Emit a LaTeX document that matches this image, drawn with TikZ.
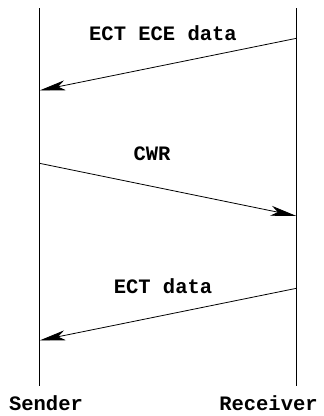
\documentclass[tikz,border=0pt]{standalone}
\usepackage{fontspec}
\setmonofont{Liberation Mono}
\usetikzlibrary{arrows.meta}
\begin{document}
\begin{tikzpicture}[x=1pt,y=-1pt,
  lifeline/.style={line width=0.9pt},
  msg/.style={line width=0.8pt,-{Stealth[length=26pt,width=10pt,inset=7pt]}},
  lbl/.style={font=\ttfamily\bfseries\fontsize{20.5}{22}\selectfont,inner sep=0pt,anchor=base}]
\useasboundingbox (0,0) rectangle (324,416);
% lifelines
\coordinate (stop) at (39.5,8);
\coordinate (sbot) at (39.5,386);
\coordinate (rtop) at (296.5,8);
\coordinate (rbot) at (296.5,386);
\draw[lifeline] (stop) -- (sbot);
\draw[lifeline] (rtop) -- (rbot);
% message end points
\coordinate (r1) at (296.5,38.3);
\coordinate (s1) at (39.5,90.5);
\coordinate (s2) at (39.5,163.3);
\coordinate (r2) at (296.5,216);
\coordinate (r3) at (296.5,288.3);
\coordinate (s3) at (39.5,340.5);
\draw[msg] (r1) -- (s1);
\draw[msg] (s2) -- (r2);
\draw[msg] (r3) -- (s3);
% labels
\node[lbl] (l1) at (163,40.5) {ECT ECE data};
\node[lbl] (l2) at (152,160) {CWR};
\node[lbl] (l3) at (163,293.3) {ECT data};
\node[lbl] (snd) at (46,410) {Sender};
\node[lbl] (rcv) at (268.5,410) {Receiver};
\end{tikzpicture}
\end{document}
